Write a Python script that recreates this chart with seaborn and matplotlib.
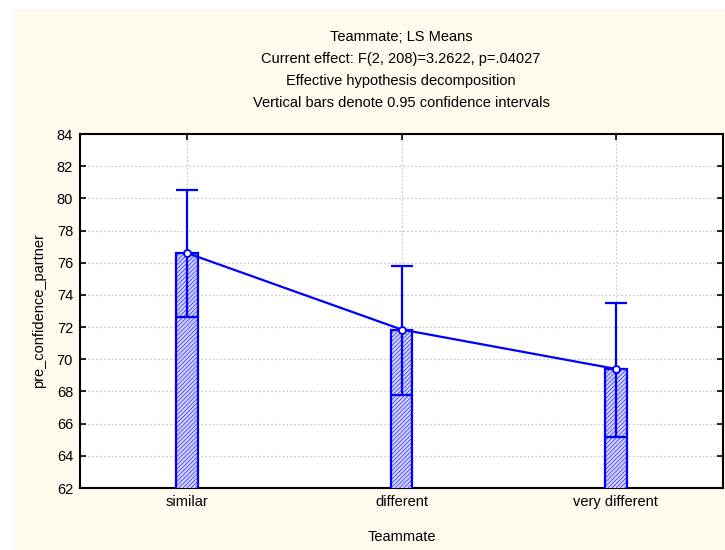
import numpy as np
import pandas as pd
import matplotlib
matplotlib.use('Agg')
import matplotlib.pyplot as plt
import matplotlib.patches as mpatches
import seaborn as sns

# LS means per Teammate level, with 0.95 CI
teammate = ['similar', 'different', 'very different']
ls_mean = [76.6, 71.85, 69.4]
ci_low = [72.65, 67.8, 65.2]
ci_high = [80.5, 75.8, 73.5]

title_lines = ['Teammate; LS Means',
               'Current effect: F(2, 208)=3.2622, p=.04027',
               'Effective hypothesis decomposition',
               'Vertical bars denote 0.95 confidence intervals']

df = pd.DataFrame({'Teammate': teammate, 'mean': ls_mean,
                   'low': ci_low, 'high': ci_high})

sns.set_style('white')
plt.rcParams['font.family'] = ['Liberation Sans', 'DejaVu Sans']
plt.rcParams['text.color'] = 'black'
plt.rcParams['axes.labelcolor'] = 'black'
plt.rcParams['hatch.color'] = '#b4b4ff'
plt.rcParams['hatch.linewidth'] = 0.4

blue = '#0000ff'
fig = plt.figure(figsize=(7.25, 5.5), dpi=100)
fig.patch.set_facecolor('white')
# cream panel behind the plot
fig.patches.append(mpatches.Rectangle((13/725, 0), 1, 1 - 9/550, transform=fig.transFigure,
                                      facecolor='#fff9ee', edgecolor='none', zorder=-10))

ax = fig.add_axes([80/725, 62/550, 643/725, 354/550])
ax.set_facecolor('white')

sns.barplot(data=df, x='Teammate', y='mean', order=teammate, color='#d2d2ff',
            width=0.1, edgecolor=blue, linewidth=1.6, hatch='////////', errorbar=None,
            saturation=1, ax=ax, zorder=3)

# confidence intervals: line from lower CI up to upper CI, caps at both ends
xpos = np.arange(len(teammate))
means = df['mean'].to_numpy()
ax.errorbar(xpos, means, yerr=[means - df['low'].to_numpy(), df['high'].to_numpy() - means],
            fmt='none', ecolor=blue, elinewidth=1.6, capsize=8, capthick=1.6, zorder=4)

sns.pointplot(data=df, x='Teammate', y='mean', order=teammate, color=blue,
              markers='o', linewidth=1.6, markersize=5, markerfacecolor='white',
              markeredgecolor=blue, markeredgewidth=1.3, errorbar=None, ax=ax, zorder=5)

ax.set_ylim(62, 84)
ax.set_xlim(-0.5, 2.5)
ax.set_yticks(np.arange(62, 85, 2))
ax.set_xticks(xpos)
ax.set_xticklabels(teammate)
ax.grid(True, color='#c4c4c4', linestyle=(0, (1.5, 2)), linewidth=0.8, zorder=0)
ax.set_axisbelow(True)
for s in ax.spines.values():
    s.set_color('black')
    s.set_linewidth(1.5)
ax.tick_params(direction='in', length=4, width=1.2, labelsize=10.5, colors='black',
               top=True, right=True, bottom=True, left=True, pad=5)
ax.set_xlabel('Teammate', fontsize=10.5, labelpad=15)
ax.set_ylabel('pre_confidence_partner', fontsize=10.5, labelpad=8)

for i, line in enumerate(title_lines):
    fig.text(401/725, 1 - (37 + 22 * i) / 550, line, ha='center', va='center', fontsize=10.5)

fig.savefig('out.png', dpi=100, facecolor=fig.get_facecolor())
